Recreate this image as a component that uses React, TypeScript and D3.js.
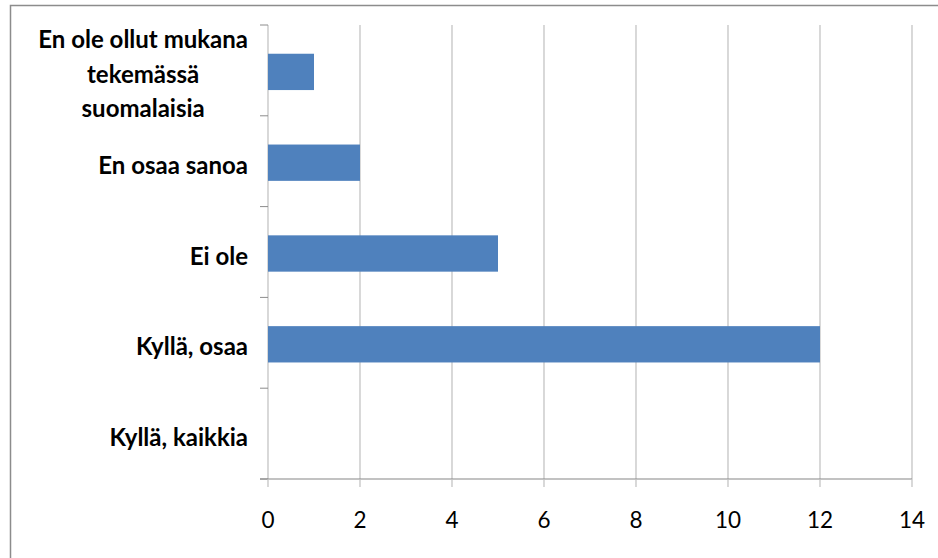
import React, { useEffect, useRef } from "react";
import * as d3 from "d3";

const categories = [
  "En ole ollut mukana tekemässä suomalaisia",
  "En osaa sanoa",
  "Ei ole",
  "Kyllä, osaa",
  "Kyllä, kaikkia",
];
const labelLines = [
  ["En ole ollut mukana", "tekemässä", "suomalaisia"],
  ["En osaa sanoa"],
  ["Ei ole"],
  ["Kyllä, osaa"],
  ["Kyllä, kaikkia"],
];
const values = [1, 2, 5, 12, 0];
const xTicks = [0, 2, 4, 6, 8, 10, 12, 14];

export default function App() {
  const ref = useRef<SVGSVGElement>(null);
  useEffect(() => {
    const svg = d3.select(ref.current);
    svg.selectAll("*").remove();
    const W = 938, H = 558;
    const left = 268, right = 912, top = 25, bottom = 479;
    const font = "Lato, 'Open Sans', sans-serif";
    const x = d3.scaleLinear().domain([0, 14]).range([left, right]);
    const y = d3.scaleBand<string>().domain(categories).range([top, bottom]).paddingInner(0.6).paddingOuter(0.3);
    const step = y.step();

    // outer frame
    svg.append("rect").attr("x", 10.5).attr("y", 5.5).attr("width", W + 20).attr("height", H + 20)
      .attr("fill", "white").attr("stroke", "#8c8c8c").attr("stroke-width", 1.5);

    // gridlines
    svg.append("g").selectAll("line").data(xTicks.filter(t => t > 0)).join("line")
      .attr("x1", d => x(d)).attr("x2", d => x(d)).attr("y1", top).attr("y2", bottom)
      .attr("stroke", "#bfbfbf").attr("stroke-width", 1.2);

    // y axis line
    svg.append("line").attr("x1", left).attr("x2", left).attr("y1", top).attr("y2", bottom)
      .attr("stroke", "#bfbfbf").attr("stroke-width", 1.2);
    // y tick marks at category boundaries
    const bounds = d3.range(categories.length + 1).map(i => top + i * step);
    svg.append("g").selectAll("line").data(bounds).join("line")
      .attr("x1", left - 8).attr("x2", left).attr("y1", d => d).attr("y2", d => d)
      .attr("stroke", "#8c8c8c").attr("stroke-width", 1);

    // bars
    svg.append("g").selectAll("rect").data(categories).join("rect")
      .attr("x", x(0)).attr("y", (d) => (y(d) as number) + 1.5)
      .attr("width", (d, i) => x(values[i]) - x(0)).attr("height", y.bandwidth())
      .attr("fill", "#4f81bd");

    // x axis
    svg.append("line").attr("x1", left - 8).attr("x2", right).attr("y1", bottom).attr("y2", bottom)
      .attr("stroke", "#868686").attr("stroke-width", 1.2);
    svg.append("g").selectAll("line").data(xTicks).join("line")
      .attr("x1", d => x(d)).attr("x2", d => x(d)).attr("y1", bottom).attr("y2", bottom + 8)
      .attr("stroke", "#bfbfbf").attr("stroke-width", 1.2);
    svg.append("g").selectAll("text").data(xTicks).join("text")
      .attr("x", d => x(d)).attr("y", 528).attr("text-anchor", "middle")
      .attr("font-family", font).attr("font-size", 22.5).attr("fill", "#000")
      .text(d => String(d));

    // y labels
    const labelRight = 248;
    const lineH = 34.5;
    categories.forEach((c, i) => {
      const lines = labelLines[i];
      const cy = (y(c) as number) + y.bandwidth() / 2 + 3;
      const g = svg.append("g");
      const texts = lines.map((ln, j) =>
        g.append("text")
          .attr("y", cy + (j - (lines.length - 1) / 2) * lineH)
          .attr("dominant-baseline", "central")
          .attr("font-family", font).attr("font-weight", 700).attr("font-size", 24)
          .attr("fill", "#000").text(ln)
      );
      const widths = texts.map(t => (t.node() as SVGTextElement).getComputedTextLength());
      const maxW = Math.max(...widths);
      const cx = labelRight - maxW / 2;
      texts.forEach(t => t.attr("x", cx).attr("text-anchor", "middle"));
    });
  }, []);
  return (
    <svg ref={ref} width={938} height={558} style={{ position: "absolute", left: 0, top: 0, display: "block" }} />
  );
}
